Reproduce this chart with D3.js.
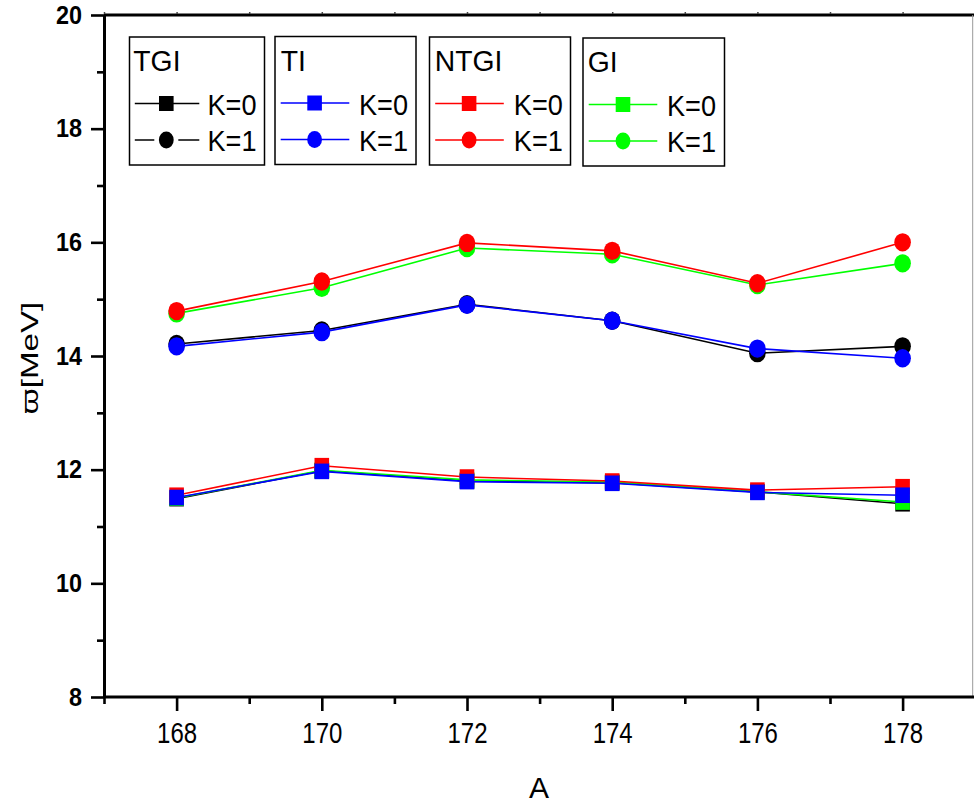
<!DOCTYPE html>
<html>
<head>
<meta charset="utf-8">
<script src="https://cdn.jsdelivr.net/npm/d3@7"></script>
<style>
  html, body { margin: 0; padding: 0; background: #fff; }
  svg { display: block; font-family: "Liberation Sans", Arial, sans-serif; }
</style>
</head>
<body>
<svg id="chart" width="974" height="808"></svg>
<script>
// ---- data ----
const massNumbers = [168, 170, 172, 174, 176, 178];
const xTickValues = [168, 170, 172, 174, 176, 178];
const xMinorTicks = [167, 169, 171, 173, 175, 177, 179];
const yTickValues = [8, 10, 12, 14, 16, 18, 20];
const yMinorTicks = [9, 11, 13, 15, 17, 19];

const modelNames = ["TGI", "TI", "NTGI", "GI"];
const modelColors = ["#000000", "#0000ff", "#ff0000", "#00ff00"];

// K = 0 (squares)
const tgiK0  = [11.49, 11.98, 11.80, 11.77, 11.61, 11.40];
const tiK0   = [11.51, 11.97, 11.79, 11.76, 11.60, 11.55];
const ntgiK0 = [11.55, 12.07, 11.87, 11.80, 11.64, 11.70];
const giK0   = [11.50, 11.99, 11.82, 11.78, 11.61, 11.43];
// K = 1 (circles)
const tgiK1  = [14.21, 14.45, 14.91, 14.62, 14.05, 14.17];
const tiK1   = [14.17, 14.42, 14.90, 14.62, 14.13, 13.96];
const ntgiK1 = [14.79, 15.31, 15.99, 15.85, 15.28, 16.00];
const giK1   = [14.75, 15.20, 15.90, 15.79, 15.25, 15.63];

const kLabels = ["K=0", "K=1"];
const xTitle = "A";
const yTitle = "\u03D6[MeV]";

// ---- build ----
(function () {
const series = [
  { name: "TGI",  color: modelColors[0], k0: tgiK0,  k1: tgiK1 },
  { name: "GI",   color: modelColors[3], k0: giK0,   k1: giK1 },
  { name: "NTGI", color: modelColors[2], k0: ntgiK0, k1: ntgiK1 },
  { name: "TI",   color: modelColors[1], k0: tiK0,   k1: tiK1 }
];

const svg = d3.select("#chart");
const W = 974, H = 808;
const pLeft = 104, pRight = 975.2, pTop = 15, pBottom = 697;

const x = d3.scaleLinear().domain([167, 179]).range([pLeft, pRight]);
const y = d3.scaleLinear().domain([8, 20]).range([pBottom, pTop]);

// frame: top and right
svg.append("line").attr("x1", pLeft).attr("x2", W).attr("y1", pTop).attr("y2", pTop)
  .attr("stroke", "#000").attr("stroke-width", 3);
svg.append("line").attr("x1", 972.7).attr("x2", 972.7).attr("y1", pTop).attr("y2", pBottom)
  .attr("stroke", "#999").attr("stroke-width", 1);
// top axis small ticks
const topAxis = svg.append("g").attr("transform", `translate(0,${pTop - 1})`)
  .call(d3.axisTop(x).tickValues(d3.range(167, 180)).tickSize(2).tickFormat(""));
topAxis.select(".domain").remove();
topAxis.selectAll("line").attr("stroke", "#444").attr("stroke-width", 1.5);

// line generator
const line = d3.line().x((d, i) => x(massNumbers[i])).y(d => y(d));

const plot = svg.append("g");
series.forEach(s => {
  // K=0 line + squares
  plot.append("path").datum(s.k0).attr("d", line)
    .attr("fill", "none").attr("stroke", s.color).attr("stroke-width", 1.6);
  plot.append("g").selectAll("rect").data(s.k0).join("rect")
    .attr("x", (d, i) => x(massNumbers[i]) - 7.3)
    .attr("y", d => y(d) - 7.8)
    .attr("width", 14.6).attr("height", 15.6)
    .attr("fill", s.color);
  // K=1 line + circles
  plot.append("path").datum(s.k1).attr("d", line)
    .attr("fill", "none").attr("stroke", s.color).attr("stroke-width", 1.6);
  plot.append("g").selectAll("ellipse").data(s.k1).join("ellipse")
    .attr("cx", (d, i) => x(massNumbers[i]))
    .attr("cy", d => y(d))
    .attr("rx", 8.3).attr("ry", 9.2)
    .attr("fill", s.color);
});

// ---- axes ----
const xAxisG = svg.append("g").attr("transform", `translate(0,${pBottom})`)
  .call(d3.axisBottom(x).tickValues(xTickValues).tickSize(14).tickPadding(11).tickSizeOuter(0));
xAxisG.select(".domain").attr("stroke-width", 3).attr("d", `M${pLeft},0H${W}`);
xAxisG.selectAll(".tick line").attr("stroke-width", 2.6);
xAxisG.selectAll(".tick text")
  .attr("font-size", 30).attr("font-family", "Liberation Sans, Arial, sans-serif")
  .attr("fill", "#000").attr("transform", "scale(0.8,1)");
const xMinorG = svg.append("g").attr("transform", `translate(0,${pBottom})`)
  .call(d3.axisBottom(x).tickValues(xMinorTicks).tickSize(7).tickFormat(""));
xMinorG.select(".domain").remove();
xMinorG.selectAll("line").attr("stroke-width", 2.6);

const ySx = 0.9;
const yAxisG = svg.append("g").attr("transform", `translate(${pLeft},0)`)
  .call(d3.axisLeft(y).tickValues(yTickValues).tickSize(13).tickPadding(9).tickSizeOuter(0));
yAxisG.select(".domain").attr("stroke-width", 3);
yAxisG.selectAll(".tick line").attr("stroke-width", 2.6);
yAxisG.selectAll(".tick text")
  .attr("font-size", 26).attr("font-weight", "bold")
  .attr("font-family", "Liberation Sans, Arial, sans-serif").attr("fill", "#000")
  .attr("x", -22 / ySx).attr("transform", `scale(${ySx},1)`);
const yMinorG = svg.append("g").attr("transform", `translate(${pLeft},0)`)
  .call(d3.axisLeft(y).tickValues(yMinorTicks).tickSize(7).tickFormat(""));
yMinorG.select(".domain").remove();
yMinorG.selectAll("line").attr("stroke-width", 2.6);

// axis titles
svg.append("text").attr("x", 539).attr("y", 798).attr("text-anchor", "middle")
  .attr("font-size", 30).text(xTitle);
svg.append("text").attr("text-anchor", "middle")
  .attr("transform", "translate(38,358) rotate(-90) scale(1.38,1)")
  .attr("font-size", 24).text(yTitle);

// ---- legend ----
const legendFont = 29.5;
const legendLayout = [
  { name: "TGI",  bx: 129.5, bw: 135, by: 37, bh: 128, tx: 4, l0: 5.3, l1: 69.8, mx: 36.8, kx: 78, gap: true },
  { name: "TI",   bx: 275,   bw: 141, by: 36.5, bh: 128, tx: 6, l0: 5.7, l1: 74.3, mx: 39.6, kx: 84, gap: false },
  { name: "NTGI", bx: 429.5, bw: 141, by: 37, bh: 128, tx: 5.5, l0: 5.7, l1: 74.3, mx: 39.6, kx: 84.3, gap: false },
  { name: "GI",   bx: 583,   bw: 141.5, by: 38, bh: 128, tx: 5, l0: 5.7, l1: 74.3, mx: 40, kx: 84, gap: false }
];
legendLayout.forEach(L => {
  const color = modelColors[modelNames.indexOf(L.name)];
  const g = svg.append("g").attr("transform", `translate(${L.bx},${L.by})`);
  g.append("rect").attr("width", L.bw).attr("height", L.bh)
    .attr("fill", "#fff").attr("stroke", "#000").attr("stroke-width", 1.5);
  g.append("text").attr("x", L.tx).attr("y", 34.5).attr("font-size", legendFont)
    .attr("transform", "scale(0.96,1)").text(L.name);
  const r0 = 66.5, r1 = 103;
  g.append("line").attr("x1", L.l0).attr("x2", L.l1).attr("y1", r0).attr("y2", r0)
    .attr("stroke", color).attr("stroke-width", 1.5);
  g.append("rect").attr("x", L.mx - 7.3).attr("y", r0 - 7.5).attr("width", 14.6).attr("height", 15)
    .attr("fill", color);
  g.append("text").attr("x", L.kx / 0.92).attr("y", 78.5).attr("font-size", legendFont)
    .attr("transform", "scale(0.92,1)").text(kLabels[0]);
  if (L.gap) {
    g.append("line").attr("x1", L.l0).attr("x2", L.mx - 12).attr("y1", r1).attr("y2", r1)
      .attr("stroke", color).attr("stroke-width", 1.5);
    g.append("line").attr("x1", L.mx + 12).attr("x2", L.l1).attr("y1", r1).attr("y2", r1)
      .attr("stroke", color).attr("stroke-width", 1.5);
  } else {
    g.append("line").attr("x1", L.l0).attr("x2", L.l1).attr("y1", r1).attr("y2", r1)
      .attr("stroke", color).attr("stroke-width", 1.5);
  }
  g.append("ellipse").attr("cx", L.mx).attr("cy", r1).attr("rx", 7.4).attr("ry", 8.5)
    .attr("fill", color);
  g.append("text").attr("x", L.kx / 0.92).attr("y", 114.5).attr("font-size", legendFont)
    .attr("transform", "scale(0.92,1)").text(kLabels[1]);
});
})();
</script>
</body>
</html>
